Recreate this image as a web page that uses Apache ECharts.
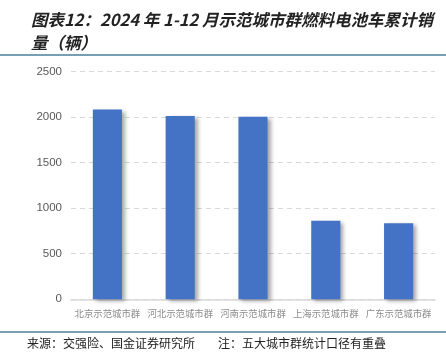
<!DOCTYPE html>
<html><head><meta charset="utf-8">
<script src="https://cdn.jsdelivr.net/npm/echarts@6/dist/echarts.min.js"></script>
<style>html,body{margin:0;padding:0;background:#fff}#c{width:446px;height:362px}</style>
</head><body><div id="c"></div>
<script>
const categories = ['北京示范城市群','河北示范城市群','河南示范城市群','上海示范城市群','广东示范城市群'];
const sales = [2082, 2013, 2003, 862, 835];
const yTicks = [0, 500, 1000, 1500, 2000, 2500];
const titleText = '图表12：2024 年 1-12 月示范城市群燃料电池车累计销\n量（辆）';
const sourceText = '来源：交强险、国金证券研究所';
const noteText = '注：五大城市群统计口径有重叠';

const chart = echarts.init(document.getElementById('c'));
chart.setOption({
  animation: false,
  backgroundColor: '#fff',
  grid: {left: 71, right: 11, top: 71.5, bottom: 62.7},
  xAxis: {
    type: 'category', data: categories,
    axisLine: {lineStyle: {color: '#d9d9d9', width: 1.5}},
    axisTick: {show: false},
    axisLabel: {color: '#8c8c8c', fontSize: 9.4, margin: 9, interval: 0, fontFamily: 'Noto Sans CJK SC'}
  },
  yAxis: {
    type: 'value', min: yTicks[0], max: yTicks[yTicks.length-1], interval: 500,
    axisLine: {show: false}, axisTick: {show: false},
    axisLabel: {color: '#595959', fontSize: 11.5, margin: 9, fontFamily: 'Liberation Sans', formatter: v => String(v)},
    splitLine: {lineStyle: {color: '#d9d9d9', type: [5, 4], width: 1}}
  },
  series: [{
    type: 'bar', data: sales, barWidth: '40%',
    itemStyle: {color: '#4472c4', shadowColor: 'rgba(0,0,0,0.35)', shadowBlur: 4, shadowOffsetX: 3, shadowOffsetY: 2}
  }],
  graphic: [
    {type: 'text', left: 31, top: 8, style: {text: titleText, font: 'italic bold 16.5px "Noto Sans CJK SC"', fill: '#222', lineHeight: 23}},
    {type: 'line', shape: {x1: 0, y1: 55, x2: 446, y2: 55}, style: {stroke: '#4a7f9a', lineWidth: 1.5}},
    {type: 'line', shape: {x1: 0, y1: 332, x2: 446, y2: 332}, style: {stroke: '#4a7f9a', lineWidth: 1.5}},
    {type: 'text', left: 27, top: 337, style: {text: sourceText, font: '12px "Noto Sans CJK SC"', fill: '#222'}},
    {type: 'text', left: 218, top: 337, style: {text: noteText, font: '12px "Noto Sans CJK SC"', fill: '#222'}}
  ]
});
</script></body></html>
